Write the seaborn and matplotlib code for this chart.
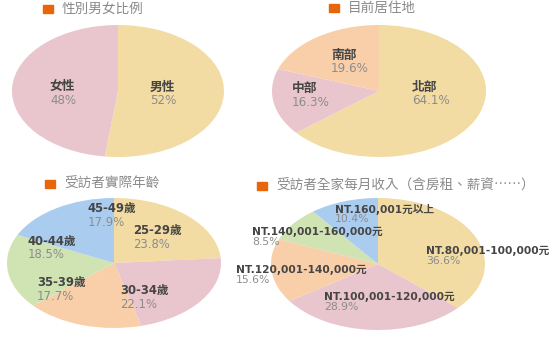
import matplotlib
matplotlib.use("Agg")
import matplotlib.pyplot as plt
import seaborn as sns

sns.set_theme(style="white")
plt.rcParams["font.family"] = ["DejaVu Sans", "Noto Sans CJK TC"]

# ---- data ----
gender_labels = ["男性", "女性"]
gender_values = [52, 48]
gender_pct = ["52%", "48%"]

region_labels = ["北部", "中部", "南部"]
region_values = [64.1, 16.3, 19.6]

age_labels = ["25-29歲", "30-34歲", "35-39歲", "40-44歲", "45-49歲"]
age_values = [23.8, 22.1, 17.7, 18.5, 17.9]

income_labels = ["NT.80,001-100,000元", "NT.100,001-120,000元",
                 "NT.120,001-140,000元", "NT.140,001-160,000元",
                 "NT.160,001元以上"]
income_values = [36.6, 28.9, 15.6, 8.5, 10.4]

titles = ["性別男女比例", "目前居住地", "受訪者實際年齡",
          "受訪者全家每月收入（含房租、薪資……）"]

# ---- style ----
YELLOW, PINK, PEACH, GREEN, BLUE = "#F2DCA4", "#E9C6CD", "#F9CFAA", "#CFE3B3", "#AACDEF"
palette5 = [YELLOW, PINK, PEACH, GREEN, BLUE]
ORANGE = "#E8650A"
NAME_C = "#454545"
PCT_C = "#8c8c8c"

W, H = 558, 339
fig = plt.figure(figsize=(W / 100, H / 100), dpi=100)
fig.patch.set_facecolor("white")


def make_ax(cx, cy, rx, ry):
    """Axes whose [-1,1] box covers the ellipse centred at (cx, cy) px."""
    ax = fig.add_axes([(cx - rx) / W, 1 - (cy + ry) / H, 2 * rx / W, 2 * ry / H])
    ax.set_xlim(-1, 1)
    ax.set_ylim(-1, 1)
    ax.axis("off")
    return ax


def draw_pie(ax, values, colors):
    ax.pie(values, colors=colors, startangle=90, counterclock=False,
           radius=1, wedgeprops=dict(linewidth=0))
    ax.set_aspect("auto")
    ax.set_xlim(-1, 1)
    ax.set_ylim(-1, 1)


def put_labels(ax, names, pcts, anchors, cx, cy, rx, ry, ha="left",
               fs=8.0, pfs=None, gap=14):
    pfs = pfs or fs
    for name, pct, (px, py) in zip(names, pcts, anchors):
        x = (px - cx) / rx
        y = (cy - py) / ry
        ax.text(x, y, name, ha=ha, va="center", fontsize=fs,
                fontweight="bold", color=NAME_C, clip_on=False)
        ax.text(x, y - gap / ry, pct, ha=ha, va="center", fontsize=pfs,
                color=PCT_C, clip_on=False)


def title(px, py, text):
    fig.patches.append(plt.Rectangle((px / W, 1 - (py + 4) / H), 10 / W, 8 / H,
                                     transform=fig.transFigure,
                                     color=ORANGE, zorder=5))
    fig.text((px + 19) / W, 1 - py / H, text, ha="left", va="center",
             fontsize=9.8, color="#8a8a8a",
             family=["Noto Sans CJK TC", "DejaVu Sans"])


# gender
cx, cy, rx, ry = 118, 91, 106, 66
ax = make_ax(cx, cy, rx, ry)
draw_pie(ax, gender_values, [YELLOW, PINK])
put_labels(ax, gender_labels, gender_pct, [(150, 87), (50, 86)],
           cx, cy, rx, ry, fs=9.2, pfs=8.6)

# region
cx, cy, rx, ry = 379, 91, 107, 66
ax = make_ax(cx, cy, rx, ry)
draw_pie(ax, region_values, [YELLOW, PINK, PEACH])
put_labels(ax, region_labels, [f"{v}%" for v in region_values],
           [(412, 87), (292, 88), (331, 55)], cx, cy, rx, ry,
           fs=9.2, pfs=8.6)

# age
cx, cy, rx, ry = 114, 263, 107, 65
ax = make_ax(cx, cy, rx, ry)
draw_pie(ax, age_values, palette5)
put_labels(ax, age_labels, [f"{v}%" for v in age_values],
           [(133, 230), (120, 290), (37, 282), (28, 241), (88, 208)],
           cx, cy, rx, ry, fs=8.4, pfs=8.4)

# income
cx, cy, rx, ry = 378, 264, 107, 66
ax = make_ax(cx, cy, rx, ry)
draw_pie(ax, income_values, palette5)
put_labels(ax, income_labels, [f"{v}%" for v in income_values],
           [(426, 251), (324, 297), (236, 270), (252, 232), (335, 209)],
           cx, cy, rx, ry, fs=7.7, pfs=7.8, gap=10)

title(43, 9, titles[0])
title(329, 8, titles[1])
title(45, 184, titles[2])
title(257, 186, titles[3])

fig.savefig("out.png", dpi=100, facecolor="white")
